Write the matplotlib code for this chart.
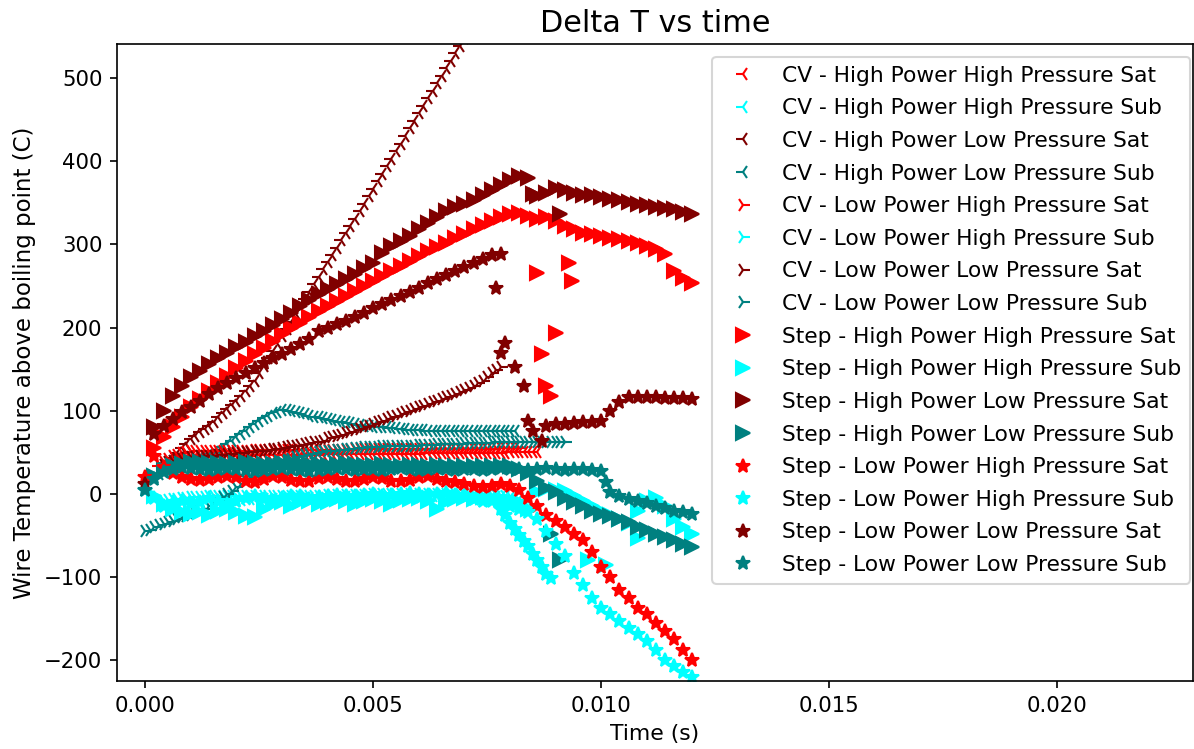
import numpy as np
import matplotlib
matplotlib.use("Agg")
import matplotlib.pyplot as plt

N = None

# Sample times (ms) of the constant-voltage runs
TIME_CV_MS = [0.0, 0.1, 0.2, 0.3, 0.4, 0.5, 0.6, 0.7, 0.8, 0.9,
              1.0, 1.1, 1.2, 1.3, 1.4, 1.5, 1.6, 1.7, 1.8, 1.9,
              2.0, 2.1, 2.2, 2.3, 2.4, 2.5, 2.6, 2.7, 2.8, 2.9,
              3.0, 3.1, 3.2, 3.3, 3.4, 3.5, 3.6, 3.7, 3.8, 3.9,
              4.0, 4.1, 4.2, 4.3, 4.4, 4.5, 4.6, 4.7, 4.8, 4.9,
              5.0, 5.1, 5.2, 5.3, 5.4, 5.5, 5.6, 5.7, 5.8, 5.9,
              6.0, 6.1, 6.2, 6.3, 6.4, 6.5, 6.6, 6.7, 6.8, 6.9,
              7.0, 7.1, 7.2, 7.3, 7.4, 7.5, 7.6, 7.7, 7.8, 7.9,
              8.0, 8.1, 8.2, 8.3, 8.4, 8.5, 8.6, 8.7, 8.8, 8.9,
              9.0, 9.1, 9.2]

# Sample times (ms) of the step-power runs
TIME_STEP_MS = [0.0, 0.2, 0.4, 0.6, 0.8, 1.0, 1.2, 1.4, 1.6, 1.8,
                2.0, 2.2, 2.4, 2.6, 2.8, 3.0, 3.2, 3.4, 3.6, 3.8,
                4.0, 4.2, 4.4, 4.6, 4.8, 5.0, 5.2, 5.4, 5.6, 5.8,
                6.0, 6.2, 6.4, 6.6, 6.8, 7.0, 7.2, 7.4, 7.6, 7.8,
                8.0, 8.2, 8.4, 8.6, 8.8, 9.0, 9.2, 9.4, 9.6, 9.8,
                10.0, 10.2, 10.4, 10.6, 10.8, 11.0, 11.2, 11.4, 11.6, 11.8,
                12.0]

# Constant-voltage runs (wire temperature above boiling point, C)
cv_hp_hp_sat = [N, N, N, 33, 37, 40, 42, 43, 44, 44,
                45, 45, 45, 45, 45, 46, 46, 46, 46, 46,
                46, 46, 46, 46, 46, 47, 47, 47, 47, 47,
                47, 47, 47, 47, 47, 47, 47, 47, 47, 47,
                48, 48, 48, 48, 48, 48, 48, 48, 48, 48,
                48, 48, 48, 48, 48, 48, 48, 48, 48, 48,
                48, 48, 49, 49, 49, 49, 49, 49, 49, 49,
                49, 49, 49, 49, 49, 49, 49, 49, 49, 49,
                50, 50, 50, 50, 50, 50, 50, N, N, N,
                N, N, N]
cv_hp_hp_sub = [N, N, N, N, -15, -13, -12, -11, -10, -9,
                -9, -8, -8, -8, -8, -7, -7, -7, -7, -7,
                -7, -7, -6, -6, -6, -6, -6, -6, -6, -6,
                -5, -5, -5, -5, -5, -5, -5, -5, -5, -5,
                -5, -5, -4, -4, -4, -4, -4, -4, -4, -4,
                -4, -4, -4, -4, -4, -4, -4, -4, -4, -4,
                -3, -3, -3, -3, -3, -3, -3, -3, -3, -3,
                -3, -3, -3, -3, -3, -3, -4, -4, -4, -4,
                -5, -5, -6, -7, -8, N, N, N, N, N,
                N, N, N]
cv_hp_lp_sat = [N, N, N, N, 35, 39, 43, 49, 55, 60,
                66, 70, 74, 78, 82, 87, 92, 97, 102, 107,
                112, 118, 124, 130, 136, 145, 154, 163, 172, 181,
                190, 198, 207, 216, 225, 234, 243, 252, 261, 270,
                279, 287, 296, 305, 314, 322, 331, 340, 349, 358,
                367, 376, 385, 394, 403, 412, 421, 430, 440, 449,
                458, 467, 476, 485, 494, 503, 512, 521, 530, 539,
                548, 557, 566, 575, 584, N, N, N, N, N,
                N, N, N, N, N, N, N, N, N, N,
                N, N, N]
cv_hp_lp_sub = [N, N, 20, 24, 28, 31, 33, 35, 37, 39,
                40, 42, 44, 46, 48, 50, 52, 56, 60, 64,
                68, 72, 76, 80, 84, 88, 91, 94, 97, 99,
                101, 101, 100, 99, 97, 96, 94, 93, 92, 91,
                90, 89, 88, 87, 86, 85, 84, 83, 82, 82,
                81, 81, 80, 80, 79, 79, 78, 78, 77, 77,
                77, 77, 76, 76, 76, 76, 76, 76, 76, 76,
                76, 76, 76, 76, 76, 76, 76, 76, 76, 76,
                76, 76, N, N, N, N, N, N, N, N,
                N, N, N]
cv_lp_hp_sat = [N, N, N, N, 38, 42, 45, 47, 49, 50,
                51, 51, 52, 52, 52, 52, 52, 52, 52, 52,
                52, 52, 52, 52, 53, 53, 53, 53, 53, 53,
                53, 53, 53, 53, 53, 53, 53, 53, 53, 53,
                53, 53, 53, 53, 53, 53, 54, 54, 54, 54,
                54, 54, 54, 54, 54, 54, 54, 54, 54, 54,
                54, 54, 54, 54, 54, 54, 54, 54, 54, 54,
                54, 54, 54, 54, 54, 54, 54, 55, 55, 55,
                55, 55, 55, N, N, N, N, N, N, N,
                N, N, N]
cv_lp_hp_sub = [N, N, N, N, -8, -7, -6, -6, -5, -5,
                -4, -4, -4, -4, -3, -3, -3, -3, -3, -3,
                -3, -3, -2, -2, -2, -2, -2, -2, -2, -2,
                -2, -2, -2, -2, -2, -2, -2, -2, -2, -2,
                -1, -1, -1, -1, -1, -1, -1, -1, -1, -1,
                0, 0, 0, 0, 0, 0, 0, 0, 0, 0,
                0, 0, 0, 0, 0, 0, 0, 0, 0, 0,
                0, 0, 0, 0, -1, -1, -1, -1, -2, -2,
                -3, N, N, N, N, N, N, N, N, N,
                N, N, N]
cv_lp_lp_sat = [N, N, N, N, 35, 38, 40, 41, 42, 43,
                44, 44, 45, 45, 46, 46, 47, 47, 48, 48,
                49, 49, 50, 50, 51, 51, 52, 53, 54, 54,
                55, 56, 57, 58, 59, 60, 61, 62, 63, 64,
                67, 68, 70, 71, 73, 75, 77, 78, 80, 82,
                84, 86, 88, 90, 92, 94, 96, 98, 100, 102,
                104, 106, 108, 110, 112, 114, 116, 118, 120, 122,
                125, 127, 130, 133, 136, 140, 145, 149, 152, N,
                N, N, N, N, N, N, N, N, N, N,
                N, N, N]
cv_lp_lp_sub = [-45, -43, -40, -38, -36, -34, -32, -30, -28, -27,
                -25, -23, -21, -18, -15, -12, -8, -4, 0, 4,
                8, 12, 15, 19, 22, 25, 28, 31, 33, 36,
                38, 40, 42, 44, 45, 47, 48, 49, 50, 51,
                52, 52, 53, 53, 54, 54, 55, 55, 56, 56,
                56, 56, 57, 57, 57, 57, 58, 58, 58, 58,
                59, 59, 59, 59, 60, 60, 60, 60, 60, 60,
                61, 61, 61, 61, 61, 61, 62, 62, 62, 62,
                62, 62, 62, 62, 62, 62, 62, 62, 62, 62,
                62, 62, 62]

# Step-power runs
st_hp_hp_sat = [N, 55, 68, 80, 92, 104, 114, 124, 133, 142,
                151, 160, 168, 176, 184, 192, 199, 206, 213, 220,
                226, 232, 238, 244, 250, 256, 262, 268, 274, 280,
                286, 292, 297, 302, 308, 313, 318, 323, 328, 333,
                337, 338, 334, 330, 333, 328, 322, 318, 314, 312,
                310, 308, 306, 304, 302, 298, 294, 288, 268, 260,
                253]
st_hp_hp_sat_xt = [8.6, 9.3, 9.35, 9.0, 8.7, 8.8, 8.9]
st_hp_hp_sat_xv = [266, 278, 256, 194, 168, 130, 118]

st_hp_hp_sub = [N, -2, -12, -18, -22, -24, -22, -25, -20, -18,
                -22, -26, -28, -18, -12, -10, -15, -10, -8, -12,
                -10, -6, -8, -12, -8, -6, -8, -12, -7, -6,
                -5, -8, -18, -10, -6, -5, -6, -4, -5, -6,
                -8, -10, -18, 2, 6, 5, 3, -2, -8, -14,
                -20, -25, -30, -35, -20, -8, -5, -15, -30, -40,
                -48]
st_hp_hp_sub_xt = [9.7, 10.1, 10.8]
st_hp_hp_sub_xv = [-80, -85, -53]

st_hp_lp_sat = [N, 80, 100, 118, 130, 140, 148, 156, 163, 170,
                177, 183, 190, 196, 203, 210, 218, 226, 233, 240,
                246, 252, 258, 265, 272, 278, 290, 298, 304, 310,
                318, 326, 333, 340, 345, 349, 354, 360, 366, 372,
                378, 382, 380, 358, 362, 368, 366, 362, 360, 359,
                357, 355, 353, 351, 349, 347, 345, 344, 342, 339,
                336]
st_hp_lp_sat_xt = [8.5, 9.1]
st_hp_lp_sat_xv = [361, 337]

st_hp_lp_sub = [N, 22, 30, 34, 36, 38, 38, 37, 37, 36,
                37, 38, 37, 36, 36, 37, 38, 37, 36, 36,
                35, 36, 37, 36, 35, 35, 36, 35, 34, 35,
                35, 34, 35, 34, 34, 33, 34, 33, 33, 33,
                33, 30, 25, 15, 7, 2, -5, -10, -14, -20,
                -24, -27, -30, -34, -40, -44, -48, -52, -56, -60,
                -64]
st_hp_lp_sub_xt = [8.9, 9.1]
st_hp_lp_sub_xv = [-48, -80]

st_lp_hp_sat = [20, 45, 32, 25, 20, 18, 17, 18, 20, 22,
                20, 16, 14, 18, 21, 20, 17, 15, 16, 19,
                20, 18, 15, 15, 18, 20, 19, 16, 15, 17,
                20, 21, 18, 15, 14, 12, 10, 8, 10, 12,
                10, 5, -5, -15, -25, -33, -40, -48, -55, -70,
                -88, -100, -115, -125, -137, -145, -155, -165, -175, -188,
                -200]

st_lp_hp_sub = [5, -5, -15, -10, -8, -12, -10, -5, -8, -12,
                -8, -5, -3, -6, -8, -5, -2, -3, -6, -4,
                -2, -1, -3, -2, -1, 0, -2, -1, 0, 1,
                0, -1, 0, 1, -1, -3, -6, -8, -8, -12,
                -15, -18, -22, -30, -45, -60, -75, -95, -110, -125,
                -137, -145, -153, -161, -168, -177, -188, -200, -207, -214,
                -220]
st_lp_hp_sub_xt = [7.8, 7.9, 8.0, 8.1, 8.2, 8.3, 8.4, 8.5, 8.6, 8.7, 8.8, 8.9]
st_lp_hp_sub_xv = [-18, -25, -35, -42, -50, -57, -63, -72, -80, -88, -96, -101]

st_lp_lp_sat = [12, 72, 82, 90, 98, 105, 112, 120, 127, 133,
                139, 145, 151, 157, 163, 168, 174, 180, 186, 196,
                200, 204, 208, 213, 218, 223, 228, 233, 238, 243,
                248, 253, 258, 263, 268, 273, 278, 283, 287, 288,
                N, N, N, N, 82, 84, 84, 85, 86, 87,
                88, 100, 110, 116, 116, 116, 116, 115, 115, 115,
                114]
st_lp_lp_sat_xt = [7.7, 7.9, 7.8, 8.1, 8.3, 8.4, 8.5, 8.7]
st_lp_lp_sat_xv = [248, 181, 169, 152, 130, 88, 76, 64]

st_lp_lp_sub = [5, 18, 26, 30, 32, 31, 30, 29, 30, 31,
                30, 29, 28, 29, 30, 31, 30, 29, 28, 29,
                30, 31, 30, 29, 30, 30, 29, 30, 31, 30,
                29, 30, 31, 30, 29, 30, 30, 29, 30, 31,
                30, 30, 29, 30, 31, 30, 29, 30, 30, 29,
                28, 2, -3, -6, -9, -11, -14, -17, -20, -22,
                -24]
st_lp_lp_sub_xt = [10.1]
st_lp_lp_sub_xv = [14]

RED, CYAN, MAROON, TEAL = "#ff0000", "#00ffff", "#800000", "#008080"

runs = [
    ("CV - High Power High Pressure Sat", TIME_CV_MS, cv_hp_hp_sat, [], [], RED, "3"),
    ("CV - High Power High Pressure Sub", TIME_CV_MS, cv_hp_hp_sub, [], [], CYAN, "3"),
    ("CV - High Power Low Pressure Sat", TIME_CV_MS, cv_hp_lp_sat, [], [], MAROON, "3"),
    ("CV - High Power Low Pressure Sub", TIME_CV_MS, cv_hp_lp_sub, [], [], TEAL, "3"),
    ("CV - Low Power High Pressure Sat", TIME_CV_MS, cv_lp_hp_sat, [], [], RED, "4"),
    ("CV - Low Power High Pressure Sub", TIME_CV_MS, cv_lp_hp_sub, [], [], CYAN, "4"),
    ("CV - Low Power Low Pressure Sat", TIME_CV_MS, cv_lp_lp_sat, [], [], MAROON, "4"),
    ("CV - Low Power Low Pressure Sub", TIME_CV_MS, cv_lp_lp_sub, [], [], TEAL, "4"),
    ("Step - High Power High Pressure Sat", TIME_STEP_MS, st_hp_hp_sat, st_hp_hp_sat_xt, st_hp_hp_sat_xv, RED, ">"),
    ("Step - High Power High Pressure Sub", TIME_STEP_MS, st_hp_hp_sub, st_hp_hp_sub_xt, st_hp_hp_sub_xv, CYAN, ">"),
    ("Step - High Power Low Pressure Sat", TIME_STEP_MS, st_hp_lp_sat, st_hp_lp_sat_xt, st_hp_lp_sat_xv, MAROON, ">"),
    ("Step - High Power Low Pressure Sub", TIME_STEP_MS, st_hp_lp_sub, st_hp_lp_sub_xt, st_hp_lp_sub_xv, TEAL, ">"),
    ("Step - Low Power High Pressure Sat", TIME_STEP_MS, st_lp_hp_sat, [], [], RED, "*"),
    ("Step - Low Power High Pressure Sub", TIME_STEP_MS, st_lp_hp_sub, st_lp_hp_sub_xt, st_lp_hp_sub_xv, CYAN, "*"),
    ("Step - Low Power Low Pressure Sat", TIME_STEP_MS, st_lp_lp_sat, st_lp_lp_sat_xt, st_lp_lp_sat_xv, MAROON, "*"),
    ("Step - Low Power Low Pressure Sub", TIME_STEP_MS, st_lp_lp_sub, st_lp_lp_sub_xt, st_lp_lp_sub_xv, TEAL, "*"),
]

W, H, DPI = 1194, 749, 150
fig = plt.figure(figsize=(W / DPI, H / DPI), dpi=DPI)
ax = fig.add_axes([117 / W, 1 - 681 / H, (1193 - 117) / W, (681 - 44) / H])

for label, times, vals, xt, xv, color, marker in runs:
    v = np.array([np.nan if a is None else a for a in vals], dtype=float)
    t = np.concatenate([np.array(times, dtype=float), np.array(xt, dtype=float)]) / 1000.0
    v = np.concatenate([v, np.array(xv, dtype=float)])
    ax.plot(t, v, linestyle="none", marker=marker, color=color,
            markersize=7, label=label)

ax.set_xlim(-0.00062, 0.02298)
ax.set_ylim(-225, 541)
ax.set_xticks([0.0, 0.005, 0.010, 0.015, 0.020])
ax.set_yticks([-200, -100, 0, 100, 200, 300, 400, 500])
ax.tick_params(labelsize=10.2)
ax.set_title("Delta T vs time", fontsize=14.5)
ax.set_xlabel("Time (s)", fontsize=10.5)
ax.set_ylabel("Wire Temperature above boiling point (C)", fontsize=11)
ax.legend(loc="upper right", bbox_to_anchor=((1190 - 117) / 1076, (681 - 57) / 637),
          borderaxespad=0, fontsize=10.45, labelspacing=0.58)

fig.savefig("out.png", dpi=DPI)
